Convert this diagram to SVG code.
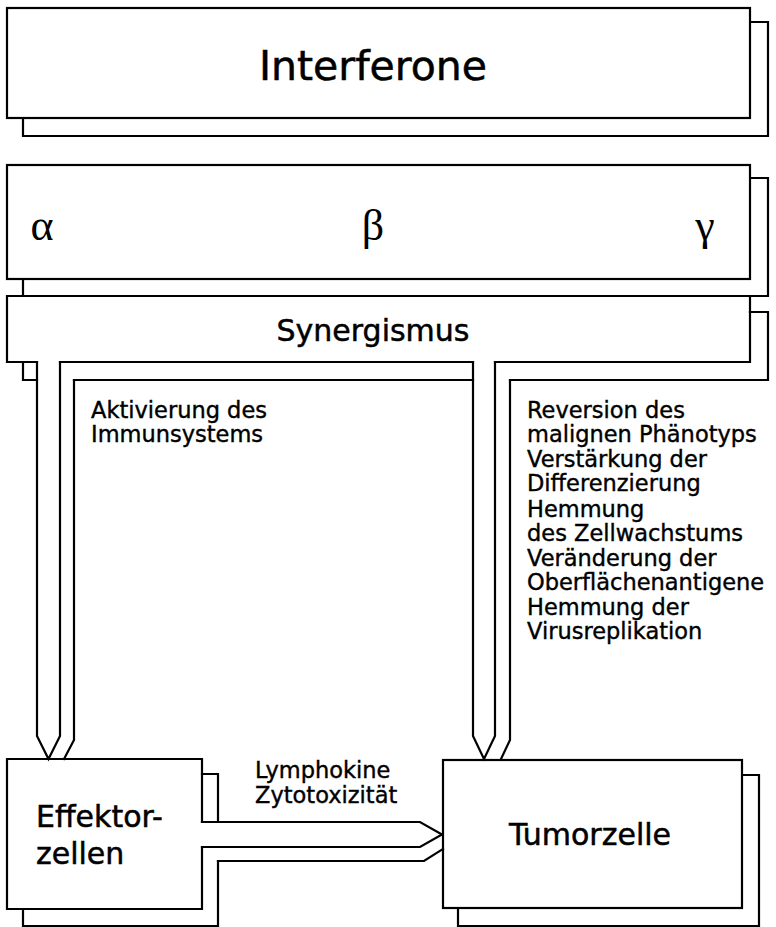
<svg xmlns="http://www.w3.org/2000/svg" width="776" height="927" viewBox="0 0 776 927">
<style>
.ln{fill:none;stroke:#000;stroke-width:2.2;stroke-linejoin:miter;stroke-linecap:square}
.fr{fill:#fff;stroke:#000;stroke-width:2.2}
.t{font-family:"DejaVu Sans","Liberation Sans",sans-serif;fill:#000;stroke:#000;stroke-width:0.5}
.g{font-family:"Liberation Serif","DejaVu Serif",serif;fill:#000}
.big{font-size:41px}
.mid{font-size:30px}
.sm{font-size:22.5px;stroke-width:0.4}
</style>
<rect width="776" height="927" fill="#fff"/>
<g id="node-interferone">
<path class="ln" d="M750,22 H768 V136 H23 V118"/>
<rect class="fr" x="7" y="8" width="743" height="110"/>
<text class="t big" x="373" y="80" text-anchor="middle">Interferone</text>
</g>
<g id="node-subtypes">
<path class="ln" d="M750,178 H768 V296 H23 V279"/>
<rect class="fr" x="7" y="165" width="743" height="114"/>
<text class="g" font-size="44" x="42" y="240" text-anchor="middle">α</text>
<text class="g" font-size="44" x="373" y="240" text-anchor="middle">β</text>
<text class="g" font-size="44" x="705" y="240" text-anchor="middle">γ</text>
</g>
<g id="node-synergismus">
<path class="ln" d="M37,362 H7 V296 H750 V362 H495 M473,362 H60"/>
<path class="ln" d="M750,312 H768 V380 H510 M473,380 H74 M37,380 H23 V362"/>
<text class="t mid" x="373" y="341" text-anchor="middle">Synergismus</text>
</g>
<g id="node-effektor">
<path class="ln" d="M202,822 V759 H7 V909 H202 V847"/>
<path class="ln" d="M202,774 H218 V822 M218,861 V926 H23 V909"/>
<text class="t mid" x="36" y="827">Effektor-</text>
<text class="t mid" x="36" y="864">zellen</text>
</g>
<g id="node-tumor">
<path class="ln" d="M742,775 H759 V926 H458 V908"/>
<rect class="fr" x="443" y="760" width="299" height="148"/>
<text class="t mid" x="590" y="845" text-anchor="middle">Tumorzelle</text>
</g>
<g id="connectors">
<path class="ln" d="M37,362 V736 L48.5,759 L60,736 V362"/>
<path class="ln" d="M74,380 V740 L64,759"/>
<path class="ln" d="M473,362 V736 L484,759 L495,736 V362"/>
<path class="ln" d="M510,380 V740 L501,759"/>
<path class="ln" d="M202,822 H420 L442,834.5 L420,847 H202"/>
<path class="ln" d="M218,861 H424 L443,849"/>
</g>
<g id="labels">
<text class="t sm" x="91" y="418">Aktivierung des</text>
<text class="t sm" x="91" y="442">Immunsystems</text>
<text class="t sm" x="527" y="418">Reversion des</text>
<text class="t sm" x="527" y="442">malignen Phänotyps</text>
<text class="t sm" x="527" y="467">Verstärkung der</text>
<text class="t sm" x="527" y="491">Differenzierung</text>
<text class="t sm" x="527" y="517">Hemmung</text>
<text class="t sm" x="527" y="541">des Zellwachstums</text>
<text class="t sm" x="527" y="566">Veränderung der</text>
<text class="t sm" x="527" y="590">Oberflächenantigene</text>
<text class="t sm" x="527" y="615">Hemmung der</text>
<text class="t sm" x="527" y="639">Virusreplikation</text>
<text class="t sm" x="255" y="778">Lymphokine</text>
<text class="t sm" x="255" y="803">Zytotoxizität</text>
</g>
</svg>
